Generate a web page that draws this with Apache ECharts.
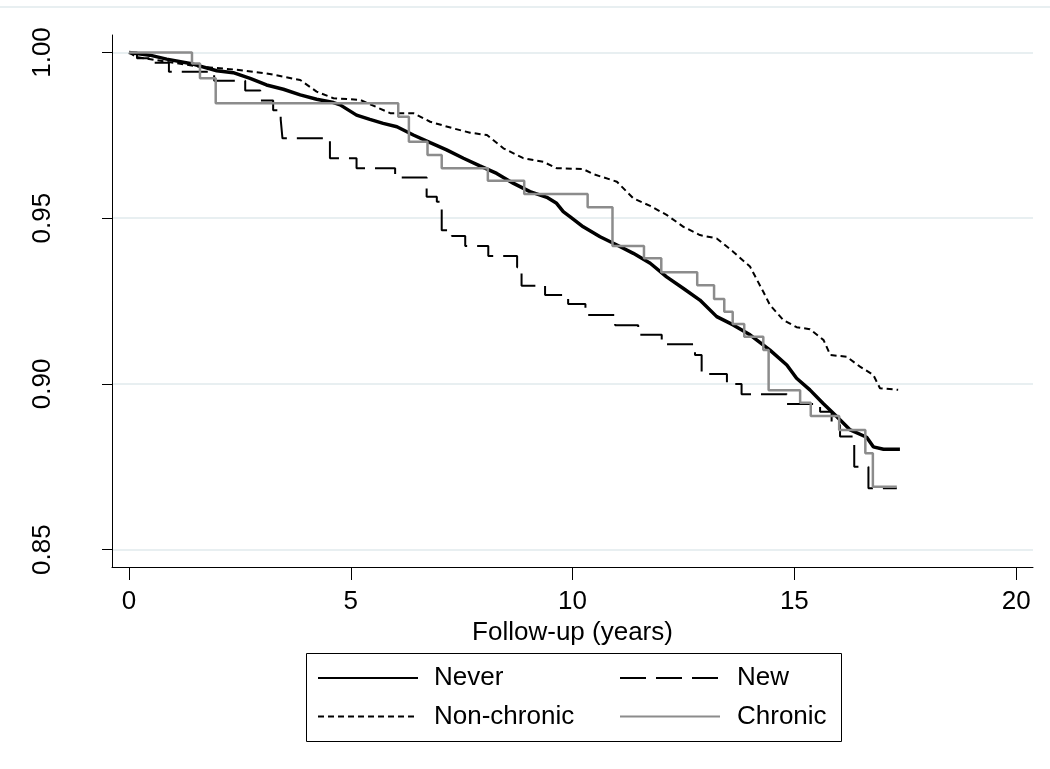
<!DOCTYPE html>
<html><head><meta charset="utf-8">
<script src="https://cdn.jsdelivr.net/npm/echarts@6/dist/echarts.min.js"></script>
<style>html,body{margin:0;padding:0;background:#fff}#c{width:1050px;height:769px}</style>
</head><body><div id="c"></div>
<script>
const xTicks = [0, 5, 10, 15, 20];
const yTicks = [0.85, 0.90, 0.95, 1.00];
const xTitle = 'Follow-up (years)';
const seriesNames = ['Never', 'New', 'Non-chronic', 'Chronic'];

// Never (dense KM curve, traced)
const neverT = [0,0.47,0.85,1.38,1.98,2.35,2.73,3.10,3.48,3.86,4.23,4.61,4.76,5.13,5.43,5.73,6.04,6.41,6.79,7.16,7.54,7.91,8.29,8.67,9.04,9.42,9.64,9.79,9.94,10.24,10.62,11.00,11.37,11.75,12.12,12.50,12.87,13.25,13.62,14.00,14.45,14.83,15.05,15.35,15.65,15.96,16.26,16.63,16.78,17.01,17.38];
const neverS = [1.0,0.9992,0.9980,0.9967,0.9945,0.9939,0.9922,0.9902,0.9889,0.9872,0.9859,0.9849,0.9842,0.9811,0.9798,0.9786,0.9776,0.9751,0.9728,0.9706,0.9681,0.9658,0.9635,0.9605,0.9580,0.9563,0.9545,0.9520,0.9505,0.9474,0.9444,0.9419,0.9394,0.9364,0.9323,0.9288,0.9253,0.9203,0.9178,0.9148,0.9102,0.9057,0.9017,0.8982,0.8941,0.8901,0.8861,0.8839,0.8810,0.8803,0.8803];

// New (step function)
const newT = [0,0.18,0.45,0.90,1.92,2.62,2.96,3.25,3.42,3.46,4.53,5.13,6.00,6.71,6.94,7.05,7.28,7.58,8.10,8.75,8.85,9.38,9.90,10.29,10.96,11.48,12.01,12.76,12.91,13.48,13.81,14.83,15.58,15.84,16.03,16.35,16.67,17.31];
const newS = [1.0,0.9983,0.9969,0.9942,0.9915,0.9885,0.9855,0.9826,0.9798,0.9741,0.9681,0.9651,0.9623,0.9565,0.9550,0.9464,0.9446,0.9416,0.9386,0.9352,0.9296,0.9268,0.9241,0.9208,0.9177,0.9148,0.9120,0.9087,0.9030,0.9000,0.8969,0.8939,0.8916,0.8876,0.8841,0.8750,0.8685,0.8685];

// Non-chronic (dense KM curve, traced)
const ncT = [0,0.18,0.85,1.60,2.35,3.10,3.86,4.23,4.61,5.21,5.89,6.41,6.79,7.31,7.69,8.07,8.44,8.89,9.34,9.64,10.24,10.47,11.00,11.37,11.75,12.12,12.50,12.87,13.25,13.62,14.00,14.30,14.45,14.75,15.05,15.35,15.66,15.81,16.18,16.48,16.78,16.93,17.34];
const ncS = [1.0,0.9986,0.9972,0.9957,0.9949,0.9937,0.9917,0.9882,0.9862,0.9857,0.9817,0.9817,0.9791,0.9771,0.9758,0.9751,0.9711,0.9681,0.9670,0.9651,0.9648,0.9633,0.9610,0.9560,0.9537,0.9510,0.9474,0.9449,0.9439,0.9399,0.9354,0.9278,0.9238,0.9193,0.9171,0.9165,0.9132,0.9087,0.9082,0.9052,0.9027,0.8987,0.8982];

// Chronic (step function)
const chT = [0,1.42,1.60,1.955,6.07,6.31,6.73,7.05,8.09,8.91,10.34,10.90,11.61,12.00,12.81,13.19,13.42,13.61,13.87,14.30,14.42,15.13,15.37,16.01,16.60,16.77,17.31];
const chS = [1.0,0.9967,0.9922,0.9847,0.9806,0.9731,0.9691,0.9651,0.9613,0.9573,0.9533,0.9416,0.9379,0.9337,0.9298,0.9256,0.9218,0.9181,0.9142,0.9102,0.8981,0.8943,0.8903,0.8861,0.8791,0.8690,0.8690];

const zip = (a, b) => a.map((v, i) => [v, b[i]]);
const FONT = 'Liberation Sans, Arial, sans-serif';
const FS = 26;
const hiddenSymbol = {color: 'rgba(0,0,0,0)', borderWidth: 0, opacity: 0};

const chart = echarts.init(document.getElementById('c'), null, {renderer: 'canvas'});
chart.setOption({
  animation: false,
  backgroundColor: '#ffffff',
  grid: {left: 112, right: 17, top: 35, bottom: 202, containLabel: false},
  xAxis: {
    type: 'value', min: -0.383, max: 20.38,
    name: xTitle, nameLocation: 'middle', nameGap: 46,
    nameTextStyle: {fontFamily: FONT, fontSize: FS, color: '#000'},
    axisLine: {show: true, onZero: false, lineStyle: {color: '#000', width: 1}},
    axisTick: {show: true, length: 13, lineStyle: {color: '#000', width: 1}, customValues: xTicks},
    axisLabel: {fontFamily: FONT, fontSize: FS, color: '#000', margin: 22, customValues: xTicks,
      formatter: v => String(v)},
    splitLine: {show: false}
  },
  yAxis: {
    type: 'value', min: 0.84475, max: 1.00528,
    axisLine: {show: true, onZero: false, lineStyle: {color: '#000', width: 1}},
    axisTick: {show: true, length: 10, lineStyle: {color: '#000', width: 1}, customValues: yTicks},
    axisLabel: {fontFamily: FONT, fontSize: FS, color: '#000', margin: 56, rotate: 90, customValues: yTicks,
      formatter: v => Number(v).toFixed(2)},
    splitLine: {show: true, lineStyle: {color: '#e8eff1', width: 2}}
  },
  legend: [
    {data: ['Never', 'Non-chronic'], orient: 'vertical', left: 317, top: 664, padding: 0,
     itemWidth: 100, itemHeight: 20, itemGap: 10.5, itemStyle: hiddenSymbol,
     textStyle: {fontFamily: FONT, fontSize: FS, color: '#000', lineHeight: 28, padding: [0,0,0,11]}},
    {data: ['New', 'Chronic'], orient: 'vertical', left: 619, top: 664, padding: 0,
     itemWidth: 100, itemHeight: 20, itemGap: 10.5, itemStyle: hiddenSymbol,
     textStyle: {fontFamily: FONT, fontSize: FS, color: '#000', lineHeight: 28, padding: [0,0,0,12]}}
  ],
  graphic: [
    {type: 'rect', shape: {x: 306.5, y: 653.5, width: 535, height: 88}, style: {fill: 'none', stroke: '#000', lineWidth: 1}, silent: true},
    {type: 'line', shape: {x1: 0, y1: 7, x2: 1050, y2: 7}, style: {stroke: '#e8eff1', lineWidth: 2}, silent: true}
  ],
  series: [
    {name: seriesNames[0], type: 'line', data: zip(neverT, neverS), symbol: 'none',
     lineStyle: {color: '#000', width: 3.5, type: 'solid'}, itemStyle: {color: '#000'}},
    {name: seriesNames[1], type: 'line', step: 'end', data: zip(newT, newS), symbol: 'none',
     lineStyle: {color: '#000', width: 2, type: [26, 10]}, itemStyle: {color: '#000'}},
    {name: seriesNames[2], type: 'line', data: zip(ncT, ncS), symbol: 'none',
     lineStyle: {color: '#000', width: 2, type: [6, 4]}, itemStyle: {color: '#000'}},
    {name: seriesNames[3], type: 'line', step: 'end', data: zip(chT, chS), symbol: 'none',
     lineStyle: {color: '#8c8c8c', width: 2.5, type: 'solid'}, itemStyle: {color: '#8c8c8c'}}
  ]
});
</script>
</body></html>
